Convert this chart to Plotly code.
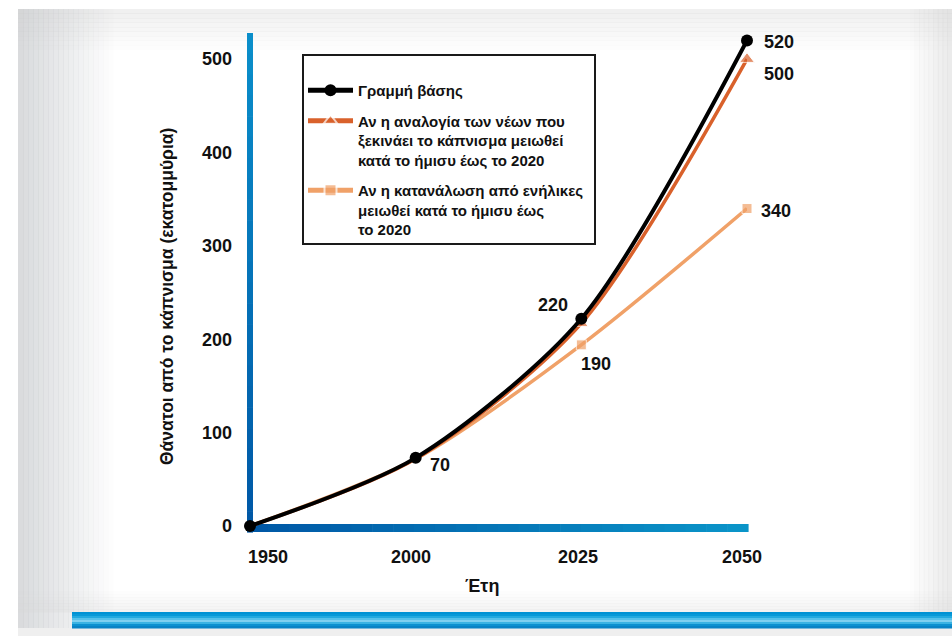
import plotly.graph_objects as go

# ---------------- data ----------------
years = ["1950", "2000", "2025", "2050"]
baseline = [0, 73, 222, 520]
youth_half = [0, 72, 217, 500]
adult_half = [0, 72, 194, 340]

series_names = [
    "Γραμμή βάσης",
    "Αν η αναλογία των νέων που<br>ξεκινάει το κάπνισμα μειωθεί<br>κατά το ήμισυ έως το 2020",
    "Αν η κατανάλωση από ενήλικες<br>μειωθεί κατά το ήμισυ έως<br>το 2020",
]
y_ticks = [0, 100, 200, 300, 400, 500]
y_title = "Θάνατοι από το κάπνισμα (εκατομμύρια)"
x_title = "Έτη"

# ---------------- geometry helpers ----------------
W, H = 952, 636
L, R, T, B = 250, 205, 33, 110
PW = W - L - R
PH = H - T - B
YMAX = 528
FONT = "Arial, Liberation Sans, sans-serif"


def px(x):
    return (x - L) / PW


def py(y):
    return (H - B - y) / PH


shapes = []


def rect(x0, y0, x1, y1, color, layer="below", line=None):
    d = dict(type="rect", xref="paper", yref="paper",
             x0=px(x0), x1=px(x1), y0=py(y1), y1=py(y0),
             fillcolor=color, layer=layer)
    d["line"] = line if line else dict(width=0)
    shapes.append(d)


def lerp(c0, c1, t):
    return tuple(round(a + (b - a) * t) for a, b in zip(c0, c1))


def grad(x0, y0, x1, y1, c0, c1, n, vertical, alpha0=None, alpha1=None):
    for i in range(n):
        t = i / (n - 1) if n > 1 else 0
        c = lerp(c0, c1, t)
        if alpha0 is not None:
            a = alpha0 + (alpha1 - alpha0) * t
            col = f"rgba({c[0]},{c[1]},{c[2]},{a:.3f})"
        else:
            col = f"rgb({c[0]},{c[1]},{c[2]})"
        if vertical:
            h = (y1 - y0) / n
            rect(x0, y0 + i * h, x1, y0 + (i + 1) * h + 0.6, col)
        else:
            w = (x1 - x0) / n
            rect(x0 + i * w, y0, x0 + (i + 1) * w + 0.6, y1, col)


# background panel
rect(18, 9, 952, 636, "#ffffff")
grad(18, 9, 118, 636, (205, 207, 210), (205, 207, 210), 20, False, 0.75, 0.0)
grad(18, 9, 952, 54, (200, 200, 200), (200, 200, 200), 10, True, 0.28, 0.0)
grad(905, 9, 952, 636, (210, 210, 210), (210, 210, 210), 10, False, 0.0, 0.45)
grad(18, 588, 952, 612, (215, 215, 215), (215, 215, 215), 8, True, 0.0, 0.3)
rect(18, 628, 952, 636, "#efefef")
# bottom blue stripe
stripe_cols = ["#0092d4", "#0799d8", "#22aae0", "#55c1ea", "#7fd0f0", "#3ab3e3", "#0c91d0", "#0a83c5"]
for i, c in enumerate(stripe_cols):
    rect(72, 612 + i * 2, 952, 612 + (i + 1) * 2 + 0.5, c)

# axis lines (gradient)
grad(247, 33, 253, 532, (10, 142, 202), (0, 88, 166), 24, True)
grad(247, 524, 748, 532, (0, 88, 166), (10, 148, 200), 24, False)

# legend frame
rect(303, 55, 595, 244, "rgba(255,255,255,0)", line=dict(color="#1a1a1a", width=2))

# ---------------- traces ----------------
fig = go.Figure()
xi = list(range(len(years)))

fig.add_trace(go.Scatter(
    x=xi, y=adult_half, name=f"<b>{series_names[2]}</b>", mode="lines+markers",
    legendgroup="c", legendrank=3,
    line=dict(color="#f0a168", width=3.5, shape="spline", smoothing=0.8),
    marker=dict(symbol="square", size=[0, 0, 10, 10], color="#f0a168"),
    cliponaxis=False,
))
fig.add_trace(go.Scatter(
    x=xi, y=youth_half, name=f"<b>{series_names[1]}</b>", mode="lines+markers",
    legendgroup="b", legendrank=2,
    line=dict(color="#d9612b", width=3.5, shape="spline", smoothing=0.8),
    marker=dict(symbol="triangle-up", size=[0, 0, 12, 13], color="#d9612b"),
    cliponaxis=False,
))
fig.add_trace(go.Scatter(
    x=xi, y=baseline, name=f"<b>{series_names[0]}</b>", mode="lines+markers",
    legendgroup="a", legendrank=1,
    line=dict(color="#000000", width=4, shape="spline", smoothing=0.8),
    marker=dict(symbol="circle", size=12, color="#000000"),
    cliponaxis=False,
))

# ---------------- annotations ----------------
annotations = []
lab_font = dict(family=FONT, size=18, color="#111111")

value_labels = [
    (baseline, 1, "70", 24, -7),
    (baseline, 2, "220", -28, 14),
    (adult_half, 2, "190", 15, -19),
    (baseline, 3, "520", 32, -2),
    (youth_half, 3, "500", 32, -15),
    (adult_half, 3, "340", 29, -2),
]
for arr, i, txt, dx, dy in value_labels:
    annotations.append(dict(x=i, y=arr[i], xref="x", yref="y", text=f"<b>{txt}</b>",
                            showarrow=False, xshift=dx, yshift=dy, font=lab_font,
                            xanchor="center", yanchor="middle"))

tick_shift = [18, -5, -3, -5]
for i, yr in enumerate(years):
    annotations.append(dict(x=i, y=0, xref="x", yref="paper", text=f"<b>{yr}</b>",
                            showarrow=False, xshift=tick_shift[i], yshift=-31,
                            font=lab_font, xanchor="center", yanchor="middle"))

annotations.append(dict(x=px(482), y=py(586), xref="paper", yref="paper",
                        text=f"<b>{x_title}</b>", showarrow=False, font=lab_font,
                        xanchor="center", yanchor="middle"))
annotations.append(dict(x=px(167), y=py(297), xref="paper", yref="paper",
                        text=f"<b>{y_title}</b>", showarrow=False, textangle=-90,
                        font=dict(family=FONT, size=17.5, color="#111111"),
                        xanchor="center", yanchor="middle"))

fig.update_layout(
    width=W, height=H,
    margin=dict(l=L, r=R, t=T, b=B, pad=0),
    paper_bgcolor="#ffffff",
    plot_bgcolor="rgba(0,0,0,0)",
    showlegend=True,
    legend=dict(
        x=px(303), y=py(74), xanchor="left", yanchor="top",
        bgcolor="rgba(0,0,0,0)", borderwidth=0,
        font=dict(family=FONT, size=15, color="#111111"),
        traceorder="grouped", itemsizing="constant", valign="top",
        itemwidth=45, tracegroupgap=8,
    ),
    xaxis=dict(range=[0, 3], showgrid=False, zeroline=False, showline=False,
               showticklabels=False, ticks="", fixedrange=True),
    yaxis=dict(range=[0, YMAX], tickvals=y_ticks,
               ticktext=[f"<b>{v}</b>" for v in y_ticks],
               showgrid=False, zeroline=False, showline=False, ticks="",
               ticklabelstandoff=17,
               tickfont=dict(family=FONT, size=18, color="#111111")),
    shapes=shapes,
    annotations=annotations,
)

fig.write_html("out.html")
